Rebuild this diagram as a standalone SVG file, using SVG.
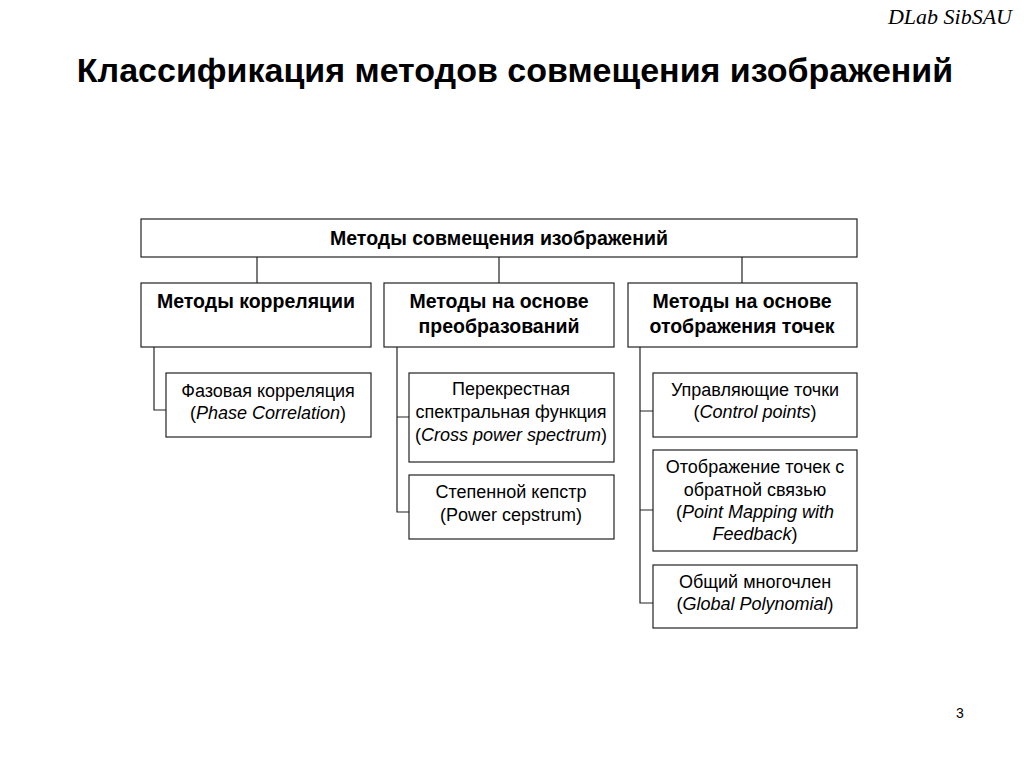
<svg xmlns="http://www.w3.org/2000/svg" width="1024" height="768" viewBox="0 0 1024 768">
<style>
.box{fill:#fff;stroke:#222;stroke-width:1.2}
.ln{fill:none;stroke:#222;stroke-width:1.2}
text{font-family:"Liberation Sans",Arial,sans-serif;fill:#000}
.b{font-weight:bold;font-size:19.5px}
.r{font-size:18px}
.t{font-weight:bold;font-size:34px}
</style>
<rect width="1024" height="768" fill="#fff"/>
<text x="1012" y="24" text-anchor="end" style="font-family:'Liberation Serif',serif;font-style:italic;font-size:22px">DLab SibSAU</text>
<text class="t" x="515" y="82" text-anchor="middle">Классификация методов совмещения изображений</text>
<g id="connectors">
<path class="ln" d="M257 257V283M499 257V283M742 257V283"/>
<path class="ln" d="M154 347V410H166"/>
<path class="ln" d="M397 347V512H409M397 417H409"/>
<path class="ln" d="M640 347V603H653M640 411H653M640 510H653"/>
</g>
<g id="root"><rect class="box" x="141" y="219" width="716" height="38"/><text class="b" x="499" y="245" text-anchor="middle">Методы совмещения изображений</text></g>
<g id="corr"><rect class="box" x="141" y="283" width="230" height="64"/><text class="b" x="256" y="308" text-anchor="middle">Методы корреляции</text></g>
<g id="transf"><rect class="box" x="384" y="283" width="230" height="64"/><text class="b" x="499" y="308" text-anchor="middle">Методы на основе</text><text class="b" x="499" y="333" text-anchor="middle">преобразований</text></g>
<g id="points"><rect class="box" x="628" y="283" width="229" height="64"/><text class="b" x="742" y="308" text-anchor="middle">Методы на основе</text><text class="b" x="742" y="333" text-anchor="middle">отображения точек</text></g>
<g id="phase"><rect class="box" x="166" y="373" width="205" height="64"/><text class="r" x="268" y="397" text-anchor="middle">Фазовая корреляция</text><text class="r" x="268" y="419" text-anchor="middle">(<tspan font-style="italic">Phase Correlation</tspan>)</text></g>
<g id="cross"><rect class="box" x="409" y="373" width="205" height="89"/><text class="r" x="511" y="395" text-anchor="middle">Перекрестная</text><text class="r" x="511" y="418" text-anchor="middle">спектральная функция</text><text class="r" x="511" y="441" text-anchor="middle">(<tspan font-style="italic">Cross power spectrum</tspan>)</text></g>
<g id="cepstrum"><rect class="box" x="409" y="475" width="205" height="64"/><text class="r" x="511" y="498" text-anchor="middle">Степенной кепстр</text><text class="r" x="511" y="521" text-anchor="middle">(Power cepstrum)</text></g>
<g id="control"><rect class="box" x="653" y="373" width="204" height="64"/><text class="r" x="755" y="396" text-anchor="middle">Управляющие точки</text><text class="r" x="755" y="418" text-anchor="middle">(<tspan font-style="italic">Control points</tspan>)</text></g>
<g id="mapping"><rect class="box" x="653" y="450" width="204" height="101"/><text class="r" x="755" y="473" text-anchor="middle">Отображение точек с</text><text class="r" x="755" y="496" text-anchor="middle">обратной связью</text><text class="r" x="755" y="518" text-anchor="middle">(<tspan font-style="italic">Point Mapping with</tspan></text><text class="r" x="755" y="540" text-anchor="middle"><tspan font-style="italic">Feedback</tspan>)</text></g>
<g id="poly"><rect class="box" x="653" y="565" width="204" height="63"/><text class="r" x="755" y="588" text-anchor="middle">Общий многочлен</text><text class="r" x="755" y="610" text-anchor="middle">(<tspan font-style="italic">Global Polynomial</tspan>)</text></g>
<text x="960" y="718" text-anchor="middle" style="font-size:14px">3</text>
</svg>
